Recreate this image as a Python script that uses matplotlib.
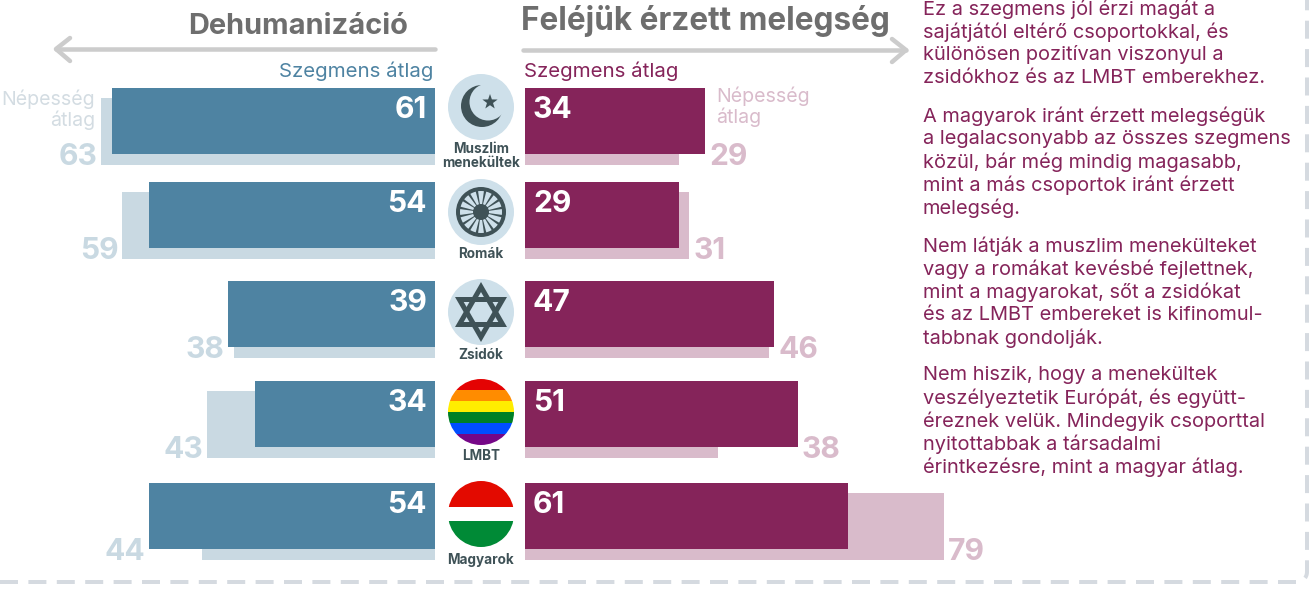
import numpy as np
from matplotlib import pyplot as plt
from matplotlib.patches import Circle, Polygon, Rectangle, Wedge

plt.rcParams['font.family'] = ['Inter', 'DejaVu Sans']

groups = ["Muszlim\nmenekültek", "Romák", "Zsidók", "LMBT", "Magyarok"]
# bar lengths as drawn in the picture, printed numbers kept apart where they differ
dehum_segment = [61, 54, 39, 34, 54]
dehum_population = [63, 59, 38, 43, 44]
warmth_segment = [34, 29, 47, 51.5, 61]
warmth_population = [29, 31, 46, 36.5, 79]
dehum_segment_labels = ["61", "54", "39", "34", "54"]
dehum_population_labels = ["63", "59", "38", "43", "44"]
warmth_segment_labels = ["34", "29", "47", "51", "61"]
warmth_population_labels = ["29", "31", "46", "38", "79"]

paragraphs = [
    ["Ez a szegmens jól érzi magát a", "sajátjától eltérő csoportokkal, és",
     "különösen pozitívan viszonyul a", "zsidókhoz és az LMBT emberekhez."],
    ["A magyarok iránt érzett melegségük", "a legalacsonyabb az összes szegmens",
     "közül, bár még mindig magasabb,", "mint a más csoportok iránt érzett", "melegség."],
    ["Nem látják a muszlim menekülteket", "vagy a romákat kevésbé fejlettnek,",
     "mint a magyarokat, sőt a zsidókat", "és az LMBT embereket is kifinomul-", "tabbnak gondolják."],
    ["Nem hiszik, hogy a menekültek", "veszélyeztetik Európát, és együtt-",
     "éreznek velük. Mindegyik csoporttal", "nyitottabbak a társadalmi",
     "érintkezésre, mint a magyar átlag."],
]

# layout, pixels of the 1314x589 picture
W, H = 1314, 589
PX = 5.3
LEFT_END, RIGHT_START = 435, 525
row_top = [88, 182, 281, 381, 483]
icon_y = [107, 212, 312, 412, 514]
label_y = [156, 254, 355, 456, 560]
para_y = [9, 116, 246, 375]

BLUE, BLUE_L = '#4E83A2', '#C9D9E2'
WINE, WINE_L = '#85245A', '#D9BBCB'
GREY, ICON, ICON_BG = '#6E6E6E', '#3F5257', '#CEE0EA'


def pt(px):
    return px * 0.72


fig = plt.figure(figsize=(W / 100, H / 100), dpi=100)
ax_l = fig.add_axes([0, 0, LEFT_END / W, 1])
ax_r = fig.add_axes([RIGHT_START / W, 0, (W - RIGHT_START) / W, 1])
ov = fig.add_axes([0, 0, 1, 1])
ax_l.set_xlim(LEFT_END / PX, 0)
ax_r.set_xlim(0, (W - RIGHT_START) / PX)
for a in (ax_l, ax_r):
    a.set_ylim(H, 0)
    a.axis('off')
ov.set_xlim(0, W)
ov.set_ylim(H, 0)
ov.axis('off')
ov.patch.set_alpha(0)

for a, seg, pop, seg_txt, pop_txt, dark, light, sign, ha in [
    (ax_l, dehum_segment, dehum_population, dehum_segment_labels, dehum_population_labels, BLUE, BLUE_L, -1, 'right'),
    (ax_r, warmth_segment, warmth_population, warmth_segment_labels, warmth_population_labels, WINE, WINE_L, 1, 'left'),
]:
    a.barh([t + 10 for t in row_top], pop, height=67, align='edge', color=light)
    a.barh(row_top, seg, height=66, align='edge', color=dark)
    for t, s, p, st, pt_ in zip(row_top, seg, pop, seg_txt, pop_txt):
        a.annotate(st, (0, t + 22), xytext=(sign * 8, 0), textcoords='offset pixels',
                   ha=ha if sign < 0 else 'left', va='center', color='white',
                   fontsize=pt(30), fontweight='bold')
        a.annotate(pt_, (max(s, p), t + 69), xytext=(sign * 4, 0), textcoords='offset pixels',
                   ha=ha, va='center', color=light, fontsize=pt(30), fontweight='bold')

# headings and arrows
ov.text(408, 26, "Dehumanizáció", ha='right', va='center', color=GREY, fontsize=pt(29), fontweight='bold')
ov.text(521, 21, "Feléjük érzett melegség", ha='left', va='center', color=GREY, fontsize=pt(31.5), fontweight='bold')
ov.plot([435, 56], [49, 49], color='#CCCCCC', lw=pt(4.5), solid_capstyle='round')
ov.plot([70, 56, 70], [38, 49, 61], color='#CCCCCC', lw=pt(4.5), solid_capstyle='round')
ov.plot([523, 906], [50, 50], color='#CCCCCC', lw=pt(4.5), solid_capstyle='round')
ov.plot([892, 906, 892], [39, 50, 62], color='#CCCCCC', lw=pt(4.5), solid_capstyle='round')

ov.text(433, 71, "Szegmens átlag", ha='right', va='center', color=BLUE, fontsize=pt(20.5))
ov.text(524, 71, "Szegmens átlag", ha='left', va='center', color=WINE, fontsize=pt(20.5))
ov.text(95, 110, "Népesség\nátlag", ha='right', va='center', color='#D3DCE2', fontsize=pt(19.5), linespacing=1.1)
ov.text(716, 107, "Népesség\nátlag", ha='left', va='center', color=WINE_L, fontsize=pt(19.5), linespacing=1.1)

# paragraphs on the right
for start, lines in zip(para_y, paragraphs):
    for i, line in enumerate(lines):
        ov.text(923, start + i * 23, line, ha='left', va='center', color=WINE, fontsize=pt(20))

# group names
for name, y in zip(groups, label_y):
    ov.text(481, y, name, ha='center', va='center', color=ICON,
            fontsize=pt(13.5), fontweight='bold', linespacing=1.05)

# icons
cx = 481
R = 33
# crescent and star
y = icon_y[0]
ov.add_patch(Circle((cx, y), R, color=ICON_BG, lw=0))
ov.add_patch(Circle((cx + 1, y - 1), 21, color=ICON, lw=0))
ov.add_patch(Circle((cx + 7, y - 5), 18.5, color=ICON_BG, lw=0))
ang = np.deg2rad(np.arange(10) * 36 - 90)
rad = np.where(np.arange(10) % 2 == 0, 8, 3.2)
ov.add_patch(Polygon(np.c_[cx + 9 + rad * np.cos(ang), y - 5 + rad * np.sin(ang)], color=ICON, lw=0))

# wheel
y = icon_y[1]
ov.add_patch(Circle((cx, y), R, color=ICON_BG, lw=0))
ov.add_patch(Circle((cx, y), 25, color=ICON, lw=0))
for k in range(16):
    ov.add_patch(Wedge((cx, y), 21, k * 22.5 - 8, k * 22.5 + 8, width=13, color=ICON_BG, lw=0))
ov.add_patch(Circle((cx, y), 7, color=ICON, lw=0))

# star of david
y = icon_y[2]
ov.add_patch(Circle((cx, y), R, color=ICON_BG, lw=0))
for start in (-90, 90):
    a = np.deg2rad(start + np.array([0, 120, 240]))
    ov.add_patch(Polygon(np.c_[cx + 25 * np.cos(a), y + 25 * np.sin(a)], fill=False, ec=ICON, lw=pt(5), joinstyle='miter'))

# rainbow
y = icon_y[3]
clip = Circle((cx, y), R, transform=ov.transData)
for k, c in enumerate(['#E40303', '#FF8C00', '#FFED00', '#008026', '#004DFF', '#750787']):
    stripe = ov.add_patch(Rectangle((cx - R, y - R + k * 11), 2 * R, 11.3, color=c, lw=0))
    stripe.set_clip_path(clip)

# hungarian flag
y = icon_y[4]
clip = Circle((cx, y), R, transform=ov.transData)
for top, c in [(y - R, '#E30A00'), (y + 7, '#008A36')]:
    stripe = ov.add_patch(Rectangle((cx - R, top), 2 * R, 26, color=c, lw=0))
    stripe.set_clip_path(clip)

# dashed frame
t = np.linspace(np.pi / 2, 0, 12)
fx = np.r_[0, 1297 + 10 * np.cos(t), 1307]
fy = np.r_[582, 572 + 10 * np.sin(t), 0]
ov.plot(fx, fy, color='#D5DAE0', lw=pt(4), dashes=(4.5, 2.6))

fig.savefig('out.png', dpi=100)
